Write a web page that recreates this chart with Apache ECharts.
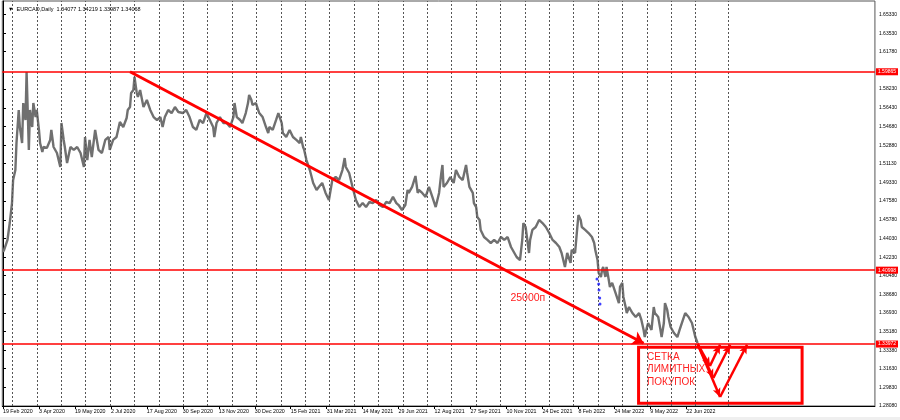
<!DOCTYPE html>
<html><head><meta charset="utf-8">
<script src="https://cdn.jsdelivr.net/npm/echarts@6/dist/echarts.min.js"></script>
<style>html,body{margin:0;padding:0;background:#fff}#c{width:900px;height:420px}</style>
</head><body><div id="c"></div>
<script>
// ---- data ----
const symbolName = 'EURCAD,Daily';
const ohlc = ['1.34077', '1.34219', '1.33987', '1.34068'];
// bar index (daily bars since 19 Feb 2020) of each sampled close
const bars = [0,1,4,6,8,9,11,12,14,15,17,18,20,21,23,24,26,27,29,30,
32,33,35,36,39,42,43,45,48,51,52,54,55,57,60,63,66,69,72,73,
75,77,79,82,85,88,91,94,95,98,101,104,107,110,111,113,114,116,117,119,
120,122,125,128,131,134,137,140,142,144,147,150,153,156,157,160,163,166,169,172,
175,178,181,184,187,188,190,193,196,199,202,205,206,208,211,213,216,218,219,221,
222,225,228,231,234,236,237,240,243,245,248,249,252,255,258,261,264,265,267,268,
270,273,276,279,281,284,287,290,293,296,299,302,304,305,308,311,314,317,320,323,
326,329,332,335,338,341,344,347,350,352,355,358,360,361,364,367,369,370,373,376,
379,382,385,388,390,391,392,395,398,401,403,406,409,412,413,415,418,419,421,422,
424,425,428,431,434,437,440,443,446,449,452,455,457,460,462,463,465,468,469,471,
474,477,480,483,486,489,492,495,497,500,502,505,506,509,511,512,514,515,518,521,
524,526,527,529,530,532,533,534,536,537,539,540,542,545,548,549,551,552,554,555,
557,560,563,566,568,570,571,573,574,577,579,580,583,585,586,588,589,591,592,594,
597,600,602,604,607,610,613,616,618];
const prices = [1.4272,1.4292,1.4387,1.4548,1.4738,1.4957,1.5052,1.5309,1.5623,1.5461,
1.5309,1.5689,1.5528,1.5984,1.5243,1.5623,1.5461,1.5689,1.5556,1.5623,
1.5433,1.5309,1.5223,1.5271,1.5262,1.5338,1.5433,1.5271,1.5214,1.5081,
1.5499,1.5338,1.5271,1.5119,1.5271,1.5243,1.5271,1.5214,1.5081,1.5366,
1.5147,1.5338,1.5176,1.5433,1.5243,1.5214,1.5338,1.5366,1.5243,1.5338,
1.5366,1.5509,1.5461,1.5547,1.5623,1.5651,1.5785,1.5813,1.5937,1.5785,
1.5747,1.5813,1.5651,1.5718,1.5623,1.5556,1.5528,1.5556,1.5461,1.5556,
1.5623,1.5594,1.5651,1.5604,1.5623,1.5594,1.5623,1.5556,1.5461,1.5433,
1.5528,1.5499,1.5594,1.5528,1.5461,1.5366,1.5499,1.5556,1.5499,1.5499,
1.5461,1.5556,1.5689,1.5556,1.5528,1.5499,1.5594,1.5689,1.5766,1.5718,
1.5670,1.5689,1.5594,1.5556,1.5461,1.5404,1.5461,1.5433,1.5528,1.5594,
1.5499,1.5404,1.5366,1.5433,1.5366,1.5338,1.5309,1.5366,1.5271,1.5243,
1.5147,1.5052,1.4929,1.4862,1.4891,1.4929,1.4834,1.4767,1.4957,1.4986,
1.4957,1.5052,1.5166,1.5081,1.5024,1.4891,1.4767,1.4700,1.4738,1.4700,
1.4748,1.4738,1.4767,1.4719,1.4700,1.4748,1.4738,1.4796,1.4738,1.4719,
1.4672,1.4719,1.4862,1.4834,1.4891,1.4995,1.4834,1.4862,1.4834,1.4796,
1.4891,1.4796,1.4700,1.4834,1.5024,1.5100,1.4891,1.4929,1.4986,1.4929,
1.5052,1.4986,1.4957,1.5100,1.5024,1.4891,1.4834,1.4738,1.4700,1.4605,
1.4577,1.4482,1.4415,1.4387,1.4358,1.4387,1.4358,1.4415,1.4387,1.4415,
1.4320,1.4263,1.4225,1.4196,1.4387,1.4548,1.4510,1.4263,1.4387,1.4482,
1.4510,1.4577,1.4548,1.4510,1.4453,1.4387,1.4358,1.4320,1.4263,1.4130,
1.4263,1.4168,1.4292,1.4263,1.4510,1.4624,1.4577,1.4510,1.4482,1.4453,
1.4415,1.4358,1.4292,1.4196,1.4073,1.4035,1.4101,1.4130,1.4035,1.4130,
1.4006,1.3940,1.3978,1.3883,1.3787,1.3940,1.3978,1.3845,1.3749,1.3692,
1.3749,1.3692,1.3654,1.3692,1.3626,1.3531,1.3464,1.3559,1.3597,1.3531,
1.3749,1.3692,1.3654,1.3531,1.3464,1.3597,1.3787,1.3721,1.3654,1.3559,
1.3502,1.3464,1.3531,1.3597,1.3692,1.3654,1.3597,1.3464,1.3407];
const dateLabels = ['19 Feb 2020','3 Apr 2020','19 May 2020','2 Jul 2020','17 Aug 2020',
'30 Sep 2020','13 Nov 2020','30 Dec 2020','15 Feb 2021','31 Mar 2021','14 May 2021',
'29 Jun 2021','12 Aug 2021','27 Sep 2021','10 Nov 2021','24 Dec 2021','8 Feb 2022',
'24 Mar 2022','9 May 2022','22 Jun 2022'];
const yTicks = [1.65330,1.63530,1.61780,1.58230,1.56430,1.54680,1.52880,1.51130,1.49330,
1.47580,1.45780,1.44030,1.42230,1.40480,1.38680,1.36930,1.35180,1.33380,1.31630,1.29830,1.28080];
const levels = [1.59865, 1.40998, 1.33972];
const trendFrom = [113, 1.5987];
const trendTo = [570, 1.3405];
const zigStart = [618, 1.3398];
const zigBottoms = [[629, 1.3188], [632, 1.3074], [638, 1.2893]];
const zigTops = [[638, 1.3390], [647, 1.3390], [662, 1.3390]];
const boxCorners = [[565.5, 1.3366], [711, 1.2834]];
const boxText = 'СЕТКА\nЛИМИТНЫХ\nПОКУПОК';
const distText = '25000п';
const distPos = [467, 1.3835];
const blueBars = [528.5, 530, 530.3, 530.9, 531.2];
const bluePrices = [1.4016, 1.3968, 1.3911, 1.3835, 1.3778];

// ---- layout constants ----
const BARS_PER_LABEL = 32;
const GRID_START = 8.5, GRID_STEP = 21.706, GRID_COUNT = 29, GRID_EXTRA = 645.4;
const RED = '#ff0000';
const FONT = 'Liberation Sans';

const labelBars = dateLabels.map((_, i) => i * BARS_PER_LABEL);
const gridBars = [];
for (let k = 0; k < GRID_COUNT; k++) gridBars.push(GRID_START + GRID_STEP * k);
gridBars.push(GRID_EXTRA);

const chart = echarts.init(document.getElementById('c'), null, {renderer: 'canvas'});
chart.setOption({
  animation: false,
  backgroundColor: '#ffffff',
  title: {
    text: '\u25BC  ' + symbolName + '  ' + ohlc.join(' '),
    left: 3, top: 1,
    textStyle: {fontSize: 5.5, fontWeight: 'normal', color: '#000', fontFamily: FONT}
  },
  graphic: [{type: 'rect', left: 0, top: 417, shape: {width: 900, height: 3}, style: {fill: '#efefef'}, silent: true}],
  grid: {left: 2, right: 23, top: 1, bottom: 14, show: true, borderColor: '#555', borderWidth: 1, backgroundColor: 'transparent'},
  xAxis: {
    type: 'value', min: -0.62, max: 775.8,
    axisLine: {show: true, onZero: false, lineStyle: {color: '#000', width: 1}},
    axisTick: {show: true, customValues: labelBars, length: 3, lineStyle: {color: '#000'}},
    axisLabel: {customValues: labelBars, formatter: v => dateLabels[Math.round(v / BARS_PER_LABEL)],
      align: 'left', fontSize: 5.3, color: '#000', margin: 3, fontFamily: FONT},
    splitLine: {show: false}
  },
  yAxis: {
    type: 'value', position: 'right', min: 1.28079, max: 1.66595, scale: true,
    axisLine: {show: true, lineStyle: {color: '#000', width: 1}},
    axisTick: {show: true, customValues: yTicks, length: 3, lineStyle: {color: '#000'}},
    axisLabel: {customValues: yTicks, formatter: v => v.toFixed(5), fontSize: 5, color: '#000', margin: 4, fontFamily: FONT},
    splitLine: {show: false}
  },
  series: [
    {
      type: 'line', name: 'grid', data: [], silent: true, z: 1,
      markLine: {
        silent: true, symbol: ['none', 'none'], animation: false,
        label: {show: false},
        lineStyle: {color: '#555', width: 1, type: [2, 2]},
        data: gridBars.map(b => ({xAxis: b}))
      }
    },
    {
      type: 'line', name: symbolName, z: 3,
      data: bars.map((b, i) => [b, prices[i]]),
      showSymbol: false, symbol: 'none',
      lineStyle: {color: '#707070', width: 2.4},
      markLine: {
        silent: true, symbol: ['none', 'none'], animation: false, precision: 5,
        lineStyle: {color: RED, width: 1.5, type: 'solid'},
        label: {show: true, position: 'end', distance: 1,
          color: '#fff', backgroundColor: RED, fontSize: 5, padding: [1, 2, 1, 2], fontFamily: FONT},
        data: levels.map(v => ({yAxis: v, label: {formatter: v.toFixed(5)}}))
      }
    },
    {
      type: 'line', name: 'annotations', data: [], z: 5, silent: true,
      markLine: {
        silent: true, animation: false,
        symbol: ['none', 'arrow'], symbolSize: [6, 9],
        label: {show: false},
        lineStyle: {color: RED, width: 2.5, type: 'solid'},
        data: [
          [{coord: trendFrom, lineStyle: {width: 3}}, {coord: trendTo, symbolSize: 11}]
        ].concat(zigBottoms.map(b => [{coord: zigStart}, {coord: b}]))
         .concat(zigBottoms.map((b, i) => [{coord: b}, {coord: zigTops[i]}]))
      },
      markArea: {
        silent: true,
        itemStyle: {color: 'rgba(0,0,0,0)', borderColor: RED, borderWidth: 3},
        label: {show: true, position: [10, 5], formatter: boxText, color: '#ff2020',
          fontSize: 10, lineHeight: 12.5, fontFamily: FONT},
        data: [[{coord: boxCorners[0]}, {coord: boxCorners[1]}]]
      },
      markPoint: {
        silent: true, symbol: 'rect', symbolSize: 1,
        itemStyle: {color: 'rgba(0,0,0,0)'},
        label: {show: true, position: 'inside', formatter: distText, color: '#ff2020', fontSize: 10.5, fontFamily: FONT},
        data: [{coord: distPos}]
      }
    },
    {
      type: 'scatter', name: 'orders', z: 6, silent: true,
      data: blueBars.map((b, i) => [b, bluePrices[i]]),
      symbol: 'circle', symbolSize: 3, itemStyle: {color: '#1010ff'}
    }
  ]
});
</script></body></html>
